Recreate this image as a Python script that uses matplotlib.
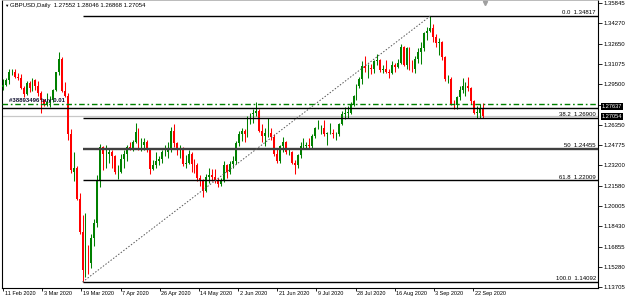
import matplotlib
matplotlib.use("Agg")
import matplotlib.pyplot as plt
import numpy as np
from matplotlib.transforms import blended_transform_factory, ScaledTranslation

# ---------------- data (prices in 1/10000) ----------------
opens = [12930, 12945, 12985, 13045, 13050, 13010, 13000, 12920, 12875, 12960, 12920, 12985, 12935, 12885,
         12825, 12790, 12815, 12825, 12905, 13045, 13150, 12900, 12860, 12560, 12270, 12300, 12060, 11800,
         11500, 11650, 11560, 11750, 11870, 12200, 12460, 12410,
         12410, 12420, 12390, 12265, 12270, 12370, 12410, 12460, 12450, 12500, 12580, 12470, 12480, 12500,
         12440, 12290, 12320, 12350, 12370, 12420, 12420, 12440,
         12590, 12490, 12440, 12450, 12330, 12340, 12410, 12330, 12320, 12220, 12200, 12120, 12230, 12240,
         12230, 12200, 12170, 12200, 12320, 12270, 12330,
         12350, 12490, 12560, 12590, 12560, 12670, 12720, 12730, 12740, 12590, 12550, 12570, 12570, 12540,
         12410, 12350, 12470, 12500, 12420, 12420, 12340, 12320,
         12400, 12470, 12470, 12480, 12470, 12550, 12610, 12610, 12610, 12560, 12570, 12570, 12560, 12560,
         12640, 12720, 12730, 12730, 12790, 12860, 12940, 12990, 13090,
         13080, 13080, 13070, 13130, 13140, 13060, 13070, 13050, 13040, 13100, 13085, 13120, 13240, 13100,
         13230, 13090, 13070, 13150, 13200, 13230, 13350,
         13370, 13390, 13320, 13270, 13280, 13160, 12990, 12990, 12800, 12790, 12850, 12910, 12940, 12940,
         12920, 12820, 12730, 12730, 12755.2]
highs = [12990, 13000, 13070, 13070, 13070, 13040, 13030, 12935, 12980, 12975, 13000, 12995, 12975, 12895,
         12840, 12880, 12860, 12915, 13050, 13200, 13160, 12970, 12880, 12600, 12420, 12310, 12100, 11930,
         11950, 11700, 11780, 11900, 12240, 12485, 12470, 12480,
         12450, 12440, 12400, 12320, 12410, 12440, 12480, 12500, 12520, 12650, 12610, 12530, 12530, 12520,
         12450, 12360, 12420, 12390, 12440, 12480, 12500, 12615,
         12645, 12500, 12480, 12460, 12400, 12440, 12420, 12370, 12340, 12240, 12210, 12250, 12300, 12290,
         12290, 12220, 12220, 12350, 12330, 12350, 12390,
         12510, 12590, 12610, 12600, 12700, 12730, 12760, 12813, 12760, 12640, 12610, 12690, 12610, 12560,
         12450, 12480, 12540, 12510, 12450, 12430, 12360, 12410,
         12500, 12530, 12500, 12530, 12560, 12620, 12670, 12630, 12670, 12580, 12650, 12600, 12580, 12650,
         12740, 12770, 12780, 12810, 12870, 12950, 13010, 13130, 13170,
         13110, 13110, 13140, 13185, 13150, 13100, 13140, 13070, 13130, 13120, 13150, 13267, 13250, 13240,
         13240, 13140, 13170, 13230, 13280, 13360, 13400,
         13481.7, 13420, 13340, 13310, 13290, 13170, 13020, 13010, 12830, 12860, 12940, 13000, 12970, 13010,
         12930, 12830, 12780, 12800, 12804.6]
lows = [12910, 12935, 12955, 13020, 13000, 12985, 12915, 12850, 12870, 12890, 12900, 12910, 12860, 12725,
        12780, 12780, 12770, 12810, 12900, 13020, 12890, 12850, 12520, 12260, 12200, 12050, 11780, 11409.2,
        11450, 11470, 11520, 11690, 11840, 12150, 12280, 12300,
        12340, 12300, 12250, 12210, 12260, 12300, 12350, 12440, 12430, 12490, 12440, 12430, 12440, 12420,
        12250, 12280, 12300, 12320, 12340, 12390, 12380, 12420,
        12460, 12400, 12380, 12310, 12300, 12330, 12270, 12260, 12200, 12160, 12076, 12110, 12180, 12200,
        12180, 12150, 12160, 12190, 12220, 12250, 12300,
        12330, 12470, 12510, 12500, 12540, 12640, 12650, 12700, 12580, 12500, 12470, 12540, 12520, 12390,
        12340, 12340, 12420, 12410, 12400, 12330, 12252, 12300,
        12380, 12450, 12450, 12450, 12450, 12530, 12600, 12560, 12550, 12480, 12560, 12530, 12520, 12550,
        12630, 12680, 12690, 12720, 12780, 12830, 12920, 12950, 13050,
        13000, 13030, 13040, 13100, 13050, 13040, 13040, 13000, 13030, 13050, 13080, 13110, 13090, 13070,
        13060, 13050, 13040, 13120, 13110, 13210, 13300,
        13360, 13280, 13240, 13180, 13140, 12980, 12960, 12790, 12760, 12760, 12830, 12880, 12860, 12900,
        12800, 12720, 12690, 12690, 12686.8]
closes = [12945, 12985, 13045, 13050, 13010, 13000, 12920, 12875, 12960, 12920, 12985, 12935, 12885, 12825,
          12790, 12815, 12825, 12905, 13045, 13150, 12900, 12860, 12560, 12280, 12300, 12060, 11800, 11500,
          11650, 11560, 11750, 11870, 12200, 12460, 12410, 12410,
          12420, 12390, 12265, 12270, 12370, 12410, 12460, 12450, 12500, 12580, 12470, 12480, 12500, 12440,
          12290, 12320, 12350, 12370, 12420, 12420, 12440, 12590,
          12490, 12440, 12450, 12330, 12340, 12410, 12330, 12320, 12220, 12200, 12120, 12230, 12240, 12230,
          12200, 12170, 12200, 12320, 12270, 12330, 12350,
          12490, 12560, 12590, 12560, 12670, 12720, 12730, 12740, 12590, 12550, 12570, 12570, 12540, 12410,
          12350, 12470, 12500, 12420, 12420, 12340, 12320, 12400,
          12470, 12470, 12480, 12470, 12550, 12610, 12610, 12610, 12560, 12570, 12570, 12560, 12560, 12640,
          12720, 12730, 12730, 12790, 12860, 12940, 12990, 13090, 13080,
          13080, 13070, 13130, 13140, 13060, 13070, 13050, 13040, 13100, 13085, 13120, 13240, 13100, 13230,
          13090, 13070, 13150, 13200, 13230, 13350, 13370,
          13390, 13320, 13270, 13280, 13160, 12990, 12990, 12800, 12790, 12850, 12910, 12940, 12940, 12920,
          12820, 12730, 12730, 12755, 12705.4]

price_ticks = [1.35845, 1.34270, 1.32650, 1.31075, 1.29500, 1.27925, 1.26350, 1.24775,
               1.23200, 1.21580, 1.20005, 1.18430, 1.16855, 1.15280, 1.13705]
hidden_tick = 1.27925   # covered by the price boxes in the reference
date_labels = ["11 Feb 2020", "3 Mar 2020", "19 Mar 2020", "7 Apr 2020", "26 Apr 2020",
               "14 May 2020", "2 Jun 2020", "21 Jun 2020", "9 Jul 2020", "28 Jul 2020",
               "16 Aug 2020", "3 Sep 2020", "22 Sep 2020"]
bars_per_label = 13.3

fib_names = ["0.0", "38.2", "50", "61.8", "100.0"]
fib_ratios = [0.0, 0.382, 0.5, 0.618, 1.0]

order_price = 1.27949
order_text = "#38893496 buy 0.01"
hline_price = 1.27637
bid_price = 1.27054
header = "GBPUSD,Daily  1.27552 1.28046 1.26868 1.27054"

# ---------------- figure ----------------
o = np.array(opens) / 10000.0
h = np.array(highs) / 10000.0
l = np.array(lows) / 10000.0
c = np.array(closes) / 10000.0
x = np.arange(len(o))

W, H = 625, 296
fig = plt.figure(figsize=(W / 100, H / 100), dpi=100)
plt.rcParams['font.family'] = ['Liberation Sans', 'DejaVu Sans']
ax = fig.add_axes([2 / W, 1 - 288 / H, 596 / W, 288 / H])
ax.set_xlim(-0.34, 202.0)
ax.set_ylim(1.13627, 1.36080)

bull = c >= o
GREEN = '#008000'
RED = '#FF0000'
cols = np.where(bull, GREEN, RED)
ax.vlines(x, l, h, colors=cols, lw=0.75, zorder=3)
body_h = np.maximum(np.abs(c - o), 0.00012)
ax.bar(x, body_h, bottom=np.minimum(o, c), width=0.62, color=cols, linewidth=0, zorder=3)

# Fibonacci
i_lo = int(np.argmin(l))
i_hi = int(np.argmax(h))
fib_hi = h[i_hi]
fib_lo = l[i_lo]
xr = ax.get_xlim()[1]
trx = blended_transform_factory(ax.transAxes, ax.transData)
for name, r in zip(fib_names, fib_ratios):
    p = fib_hi - r * (fib_hi - fib_lo)
    if name == "50":
        ax.hlines(p, i_lo, xr, colors='#404040', lw=1.7, zorder=4)
    else:
        ax.hlines(p, i_lo, xr, colors='black', lw=1.0, zorder=4)
    ax.text(0.9965, p + 0.0006, f"{name}  {p + 1e-9:.5f}", transform=trx, ha='right', va='bottom',
            fontsize=4.3, color='black', zorder=5)
ax.plot([i_lo, i_hi], [fib_lo, fib_hi], color='#555555', lw=0.7, ls=(0, (1.5, 1.8)), zorder=4)

# trade / price lines
ax.axhline(bid_price, color='#C8C8C8', lw=0.9, zorder=2)
ax.axhline(hline_price, color='black', lw=1.0, zorder=4)
ax.axhline(order_price, color=GREEN, lw=1.0, ls=(0, (4, 2, 1.2, 2)), zorder=4)
ax.text(2.0, order_price + 0.0012, order_text, fontsize=4.3, color='#101030', ha='left', va='bottom',
        zorder=5, fontweight='bold')

# axes styling
for s in ['left', 'right', 'bottom']:
    ax.spines[s].set_color('black')
    ax.spines[s].set_linewidth(0.8)
ax.spines['top'].set_color('#B0B0B0')
ax.spines['top'].set_linewidth(0.6)

ax.yaxis.tick_right()
ax.set_yticks(price_ticks)
ax.set_yticklabels(["" if v == hidden_tick else f"{v:.5f}" for v in price_ticks])
ax.tick_params(axis='y', which='both', direction='out', length=3, width=0.6, pad=1,
               labelsize=4.3, colors='black', left=False, right=True)

tick_pos = np.arange(len(date_labels)) * bars_per_label
ax.set_xticks(tick_pos)
ax.set_xticklabels(date_labels)
ax.tick_params(axis='x', which='both', direction='out', length=2, width=0.6, pad=0.3,
               labelsize=4.0, colors='black')
shift = ScaledTranslation(1.5 / 100, 0.6 / 100, fig.dpi_scale_trans)
for t in ax.get_xticklabels():
    t.set_ha('left')
    t.set_transform(t.get_transform() + shift)

# price boxes on the right axis
box_shift = [ScaledTranslation(0, 1.8 / 100, fig.dpi_scale_trans),
             ScaledTranslation(0, -0.6 / 100, fig.dpi_scale_trans)]
for p, sh in zip([hline_price, bid_price], box_shift):
    ax.text(1.006, p, f"{p:.5f}", transform=trx + sh, ha='left', va='center', fontsize=4.1,
            color='white', clip_on=False, zorder=6,
            bbox=dict(boxstyle='square,pad=0.12', fc='black', ec='black', lw=0))

# header and shift marker
fig.text(4 / W, 1 - 6 / H, "\u25BC", fontsize=3.2, color='black', ha='left', va='center')
fig.text(10 / W, 1 - 6 / H, header, fontsize=4.3, color='black', ha='left', va='center')
ax.plot([0.81], [0.99], marker='v', ms=3, color='#A0A0A0', transform=ax.transAxes, clip_on=False,
        zorder=6)

fig.savefig("out.png", dpi=100, facecolor='white')
